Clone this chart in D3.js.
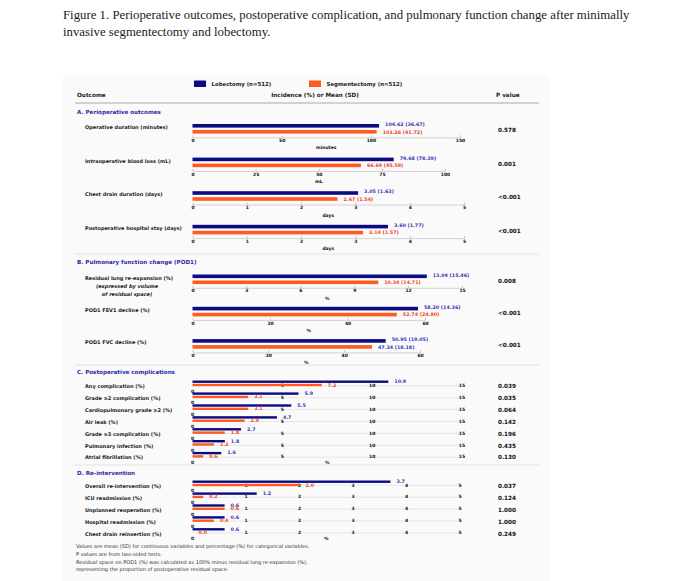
<!DOCTYPE html>
<html>
<head>
<meta charset="utf-8">
<script src="https://cdn.jsdelivr.net/npm/d3@7"></script>
<style>
body { margin: 0; background: #fff; }
svg text { font-family: 'DejaVu Sans', Verdana, sans-serif; }
.fig-title { font-family: 'Liberation Serif', 'Times New Roman', serif; font-size: 12.8px; fill: #1a1a1a; }
.head { font-size: 5.7px; font-weight: bold; fill: #222; }
.legend { font-size: 5.4px; font-weight: bold; fill: #222; }
.section { font-size: 5.6px; font-weight: bold; fill: #2a2aa8; }
.outcome { font-size: 5px; font-weight: bold; fill: #222; }
.note { font-size: 5px; font-weight: bold; font-style: italic; fill: #222; }
.tick text, .cat-tick { font-size: 4.5px; font-weight: bold; fill: #111; }
.unit { font-size: 4.5px; font-weight: bold; fill: #111; }
.value { font-size: 4.8px; font-weight: bold; }
.pval { font-size: 5.7px; font-weight: bold; fill: #111; }
.foot { font-size: 5.05px; fill: #333; }
</style>
</head>
<body>
<svg width="691" height="581"></svg>
<script>
const figureTitle = [
    'Figure 1. Perioperative outcomes, postoperative complication, and pulmonary function change after minimally',
    'invasive segmentectomy and lobectomy.'
]

const legendNames = ['Lobectomy (n=512)', 'Segmentectomy (n=512)']

const sectionTitles = [
    'A. Perioperative outcomes',
    'B. Pulmonary function change (POD1)',
    'C. Postoperative complications',
    'D. Re-intervention'
]

const outcomes = [
    'Operative duration (minutes)',
    'Intraoperative blood loss (mL)',
    'Chest drain duration (days)',
    'Postoperative hospital stay (days)',
    'Residual lung re-expansion (%)',
    'POD1 FEV1 decline (%)',
    'POD1 FVC decline (%)',
    'Any complication (%)',
    'Grade ≥2 complication (%)',
    'Cardiopulmonary grade ≥2 (%)',
    'Air leak (%)',
    'Grade ≥3 complication (%)',
    'Pulmonary infection (%)',
    'Atrial fibrillation (%)',
    'Overall re-intervention (%)',
    'ICU readmission (%)',
    'Unplanned reoperation (%)',
    'Hospital readmission (%)',
    'Chest drain reinsertion (%)'
]
const residualNote = ['(expressed by volume', 'of residual space)']
const outcomeSection = [0, 0, 0, 0, 1, 1, 1, 2, 2, 2, 2, 2, 2, 2, 3, 3, 3, 3, 3]

const lobectomy = [104.62, 79.68, 3.05, 3.60, 13.04, 58.20, 50.95,
    10.9, 5.9, 5.5, 4.7, 2.7, 1.8, 1.6,
    3.7, 1.2, 0.6, 0.6, 0.6]
const lobectomySD = [36.67, 78.39, 1.63, 1.77, 15.46, 14.36, 19.05]

const segmentectomy = [103.26, 66.69, 2.67, 3.14, 10.34, 52.74, 47.34,
    7.2, 3.1, 3.1, 2.9, 1.8, 1.2, 0.6,
    2.0, 0.2, 0.6, 0.4, 0.0]
const segmentectomySD = [41.72, 45.59, 1.54, 1.57, 14.71, 24.80, 18.18]

const pValues = ['0.578', '0.001', '<0.001', '<0.001', '0.008', '<0.001', '<0.001',
    '0.039', '0.035', '0.064', '0.142', '0.196', '0.435', '0.130',
    '0.037', '0.124', '1.000', '1.000', '0.249']

// axis ticks for the continuous rows, then the shared ones for C and D
const continuousTicks = [
    [0, 50, 100, 150],
    [0, 25, 50, 75, 100],
    [0, 1, 2, 3, 4, 5],
    [0, 1, 2, 3, 4, 5],
    [0, 3, 6, 9, 12, 15],
    [0, 20, 40, 60],
    [0, 20, 40, 60]
]
const complicationTicks = [0, 5, 10, 15]
const reinterventionTicks = [0, 1, 2, 3, 4, 5]
const axisUnits = ['minutes', 'mL', 'days', 'days', '%', '%', '%']

const footnotes = [
    'Values are mean (SD) for continuous variables and percentage (%) for categorical variables.',
    'P values are from two-sided tests.',
    'Residual space on POD1 (%) was calculated as 100% minus residual lung re-expansion (%),',
    'representing the proportion of postoperative residual space.'
]

// ---- layout ----
const blue = '#0b0b82'
const orange = '#ff5a1f'
const blueText = '#3232b4'
const redText = '#f03c28'
const barX0 = 192.5
const labelX = 85
const pX = 498
const lineX = [75, 539]

const sectionLayout = [
    { titleY: 112, top: 124, step: 33.6, barH: 3.6, gap: 6 },
    { titleY: 262, top: 274.5, step: 32.3, barH: 3.6, gap: 6 },
    { titleY: 372, top: 380.5, step: 11.9, barH: 2.4, gap: 3.3, zeroDy: 10.5, tickDy: 5 },
    { titleY: 473, top: 480.5, step: 11.9, barH: 2.4, gap: 3.3, zeroDy: 10, tickDy: 4.5 }
]
const rangeEnd = [460, 445, 464, 464, 462, 425, 420]
const catRangeEnd = [462, 460]

const rows = outcomes.map((name, i) => ({
    name,
    section: outcomeSection[i],
    lob: lobectomy[i],
    seg: segmentectomy[i],
    lobSD: lobectomySD[i],
    segSD: segmentectomySD[i],
    p: pValues[i],
    ticks: i < continuousTicks.length ? continuousTicks[i] :
        (outcomeSection[i] === 2 ? complicationTicks : reinterventionTicks),
    unit: axisUnits[i]
}))

const svg = d3.select('svg')

svg.append('rect')
    .attr('x', 63).attr('y', 76)
    .attr('width', 487).attr('height', 505)
    .attr('fill', '#fafafa')

svg.selectAll('.fig-title')
    .data(figureTitle)
    .enter()
    .append('text')
    .attr('class', 'fig-title')
    .attr('x', 63)
    .attr('y', (d, i) => 18.5 + i * 17)
    .text((d) => d)

// legend
const legend = svg.selectAll('.legend-item')
    .data(legendNames)
    .enter()
    .append('g')
    .attr('transform', (d, i) => `translate(${194 + i * 115}, 80.5)`)
legend.append('rect')
    .attr('width', 12).attr('height', 6.5)
    .attr('fill', (d, i) => i === 0 ? blue : orange)
legend.append('text')
    .attr('class', 'legend')
    .attr('x', 17.5).attr('y', 3.3)
    .attr('dominant-baseline', 'central')
    .text((d) => d)

// header
svg.append('text').attr('class', 'head').attr('x', 77).attr('y', 95)
    .attr('dominant-baseline', 'central').text('Outcome')
svg.append('text').attr('class', 'head').attr('x', 315).attr('y', 95)
    .attr('text-anchor', 'middle').attr('dominant-baseline', 'central')
    .text('Incidence (%) or Mean (SD)')
svg.append('text').attr('class', 'head').attr('x', 496).attr('y', 95)
    .attr('dominant-baseline', 'central').text('P value')

svg.selectAll('.sep')
    .data([103, 254, 365, 465])
    .enter()
    .append('line')
    .attr('x1', lineX[0]).attr('x2', lineX[1])
    .attr('y1', (d) => d).attr('y2', (d) => d)
    .attr('stroke', (d, i) => i === 0 ? '#a0a0a0' : '#dcdcdc')
    .attr('stroke-width', (d, i) => i === 0 ? 0.9 : 0.8)

svg.selectAll('.section')
    .data(sectionTitles)
    .enter()
    .append('text')
    .attr('class', 'section')
    .attr('x', 77)
    .attr('y', (d, i) => sectionLayout[i].titleY)
    .attr('dominant-baseline', 'central')
    .text((d) => d)

// one vertical point scale per section
const yScales = sectionLayout.map((L, s) => {
    const names = rows.filter((r) => r.section === s).map((r) => r.name)
    return d3.scalePoint()
        .domain(names)
        .range([L.top, L.top + L.step * (names.length - 1)])
})

rows.forEach((r, i) => {
    const L = sectionLayout[r.section]
    const y0 = yScales[r.section](r.name)
    const continuous = r.section < 2
    const sectionRows = yScales[r.section].domain()
    const isLast = sectionRows[sectionRows.length - 1] === r.name
    const x = d3.scaleLinear()
        .domain([0, d3.max(r.ticks)])
        .range([barX0, continuous ? rangeEnd[i] : catRangeEnd[r.section - 2]])

    const g = svg.append('g')

    // outcome label
    g.append('text')
        .attr('class', 'outcome')
        .attr('x', labelX)
        .attr('y', y0 + (continuous ? 3 : 5.5))
        .attr('dominant-baseline', 'central')
        .text(r.name)
    if (r.name === 'Residual lung re-expansion (%)') {
        g.selectAll('.note')
            .data(residualNote)
            .enter()
            .append('text')
            .attr('class', 'note')
            .attr('x', 127)
            .attr('y', (d, k) => y0 + 3 + 8 * (k + 1))
            .attr('text-anchor', 'middle')
            .attr('dominant-baseline', 'central')
            .text((d) => d)
    }

    if (continuous) {
        const axisY = y0 + 13.3
        const ax = g.append('g')
            .attr('class', 'tick-axis')
            .attr('transform', `translate(0, ${axisY})`)
            .call(d3.axisBottom(x)
                .tickValues(r.ticks)
                .tickSizeInner(-2)
                .tickSizeOuter(0)
                .tickPadding(1.5)
                .tickFormat(d3.format('d')))
        ax.select('.domain').attr('stroke', '#c8c8c8').attr('stroke-width', 0.8)
        ax.selectAll('.tick line').attr('stroke', '#999').attr('stroke-width', 0.6)
        ax.selectAll('.tick text').attr('font-family', null).attr('font-size', null)
        g.append('text')
            .attr('class', 'unit')
            .attr('x', d3.mean(x.range()))
            .attr('y', axisY + 10.5)
            .attr('text-anchor', 'middle')
            .attr('dominant-baseline', 'central')
            .text(r.unit)
    } else {
        const lineY = y0 + L.tickDy + 0.3
        g.append('line')
            .attr('x1', x(0)).attr('x2', x(d3.max(r.ticks)))
            .attr('y1', lineY).attr('y2', lineY)
            .attr('stroke', '#dedede').attr('stroke-width', 0.7)
        g.selectAll('.cat-tick')
            .data(r.ticks)
            .enter()
            .append('text')
            .attr('class', 'cat-tick')
            .attr('x', (t) => x(t))
            .attr('y', (t) => t === 0 ? y0 + L.zeroDy : y0 + L.tickDy)
            .attr('text-anchor', 'middle')
            .attr('dominant-baseline', 'central')
            .text((t) => t)
        if (isLast) {
            g.append('text')
                .attr('class', 'unit')
                .attr('x', d3.mean(x.range()))
                .attr('y', y0 + L.zeroDy)
                .attr('text-anchor', 'middle')
                .attr('dominant-baseline', 'central')
                .text('%')
        }
    }

    // bars
    g.append('rect')
        .attr('x', x(0))
        .attr('y', y0)
        .attr('width', x(r.lob) - x(0))
        .attr('height', L.barH)
        .attr('fill', blue)
    g.append('rect')
        .attr('x', x(0))
        .attr('y', y0 + L.gap)
        .attr('width', x(r.seg) - x(0))
        .attr('height', L.barH)
        .attr('fill', orange)

    // value labels
    const lobText = continuous ? `${r.lob.toFixed(2)} (${r.lobSD.toFixed(2)})` : r.lob.toFixed(1)
    const segText = continuous ? `${r.seg.toFixed(2)} (${r.segSD.toFixed(2)})` : r.seg.toFixed(1)
    g.append('text')
        .attr('class', 'value')
        .attr('x', x(r.lob) + 6)
        .attr('y', y0 + (continuous ? 0.5 : 1))
        .attr('dominant-baseline', 'central')
        .attr('fill', blueText)
        .text(lobText)
    g.append('text')
        .attr('class', 'value')
        .attr('x', x(r.seg) + 6)
        .attr('y', y0 + L.gap + (continuous ? 2 : 1.2))
        .attr('dominant-baseline', 'central')
        .attr('fill', r.name === 'POD1 FVC decline (%)' ? blueText : redText)
        .text(segText)

    g.append('text')
        .attr('class', 'pval')
        .attr('x', pX)
        .attr('y', y0 + (continuous ? 6 : 5.5))
        .attr('dominant-baseline', 'central')
        .text(r.p)
})

svg.selectAll('.foot')
    .data(footnotes)
    .enter()
    .append('text')
    .attr('class', 'foot')
    .attr('x', 76)
    .attr('y', (d, i) => 546 + i * 7.8)
    .attr('dominant-baseline', 'central')
    .text((d) => d)
</script>
</body>
</html>
